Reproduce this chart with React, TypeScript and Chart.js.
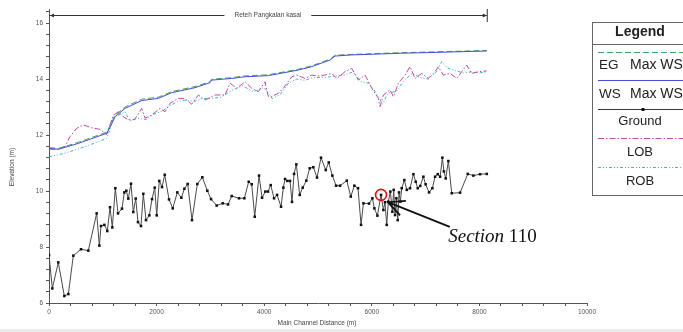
import React, { useEffect, useRef } from "react";
import { Chart, registerables } from "chart.js";

Chart.register(...registerables);

// Longitudinal profile of the Reteh Pangkalan kasai reach (HEC-RAS style)

// Ground (channel invert) profile
const groundStation = [
  0, 62, 173, 285, 360, 452, 595, 731, 886, 936, 967, 1029, 1084, 1134, 1177, 1233, 1283, 1357, 1400, 1437,
  1474, 1524, 1567, 1612, 1654, 1710, 1753, 1803, 1865, 1915, 1965, 2002, 2050, 2101, 2151, 2231, 2300, 2385,
  2460, 2516, 2578, 2658, 2757, 2850, 2943, 3012, 3117, 3229, 3328, 3396, 3532, 3631, 3712, 3768, 3824, 3904,
  3960, 4021, 4071, 4121, 4183, 4239, 4313, 4356, 4387, 4430, 4480, 4517, 4555, 4597, 4660, 4716, 4783, 4846,
  4913, 4982, 5056, 5144, 5200, 5267, 5336, 5410, 5535, 5609, 5676, 5744, 5800, 5844, 5949, 6011, 6048, 6104,
  6172, 6215, 6245, 6277, 6308, 6345, 6382, 6407, 6432, 6457, 6482, 6506, 6531, 6556, 6605, 6650, 6711, 6773,
  6817, 6854, 6900, 6959, 7000, 7065, 7126, 7176, 7226, 7270, 7312, 7340, 7374, 7423, 7486, 7641, 7784, 7888,
  8012, 8137,
];
const groundElev = [
  7.71, 6.52, 7.45, 6.25, 6.32, 7.69, 7.92, 7.87, 9.2, 8.05, 8.75, 8.79, 8.57, 9.42, 8.7, 10.1, 9.2, 9.37, 9.95, 10.01,
  9.73, 10.26, 9.25, 9.73, 8.89, 8.75, 9.9, 8.96, 9.13, 9.71, 10.12, 9.13, 10.36, 10.14, 10.58, 9.7, 9.38, 9.95,
  9.76, 10.08, 10.25, 8.96, 10.25, 10.49, 10.01, 9.71, 9.48, 9.56, 9.52, 9.82, 9.74, 9.74, 10.33, 10.24, 9.08, 10.55,
  9.76, 9.98, 9.98, 10.21, 9.74, 9.86, 9.44, 10.12, 10.43, 10.36, 10.36, 9.61, 10.61, 10.95, 9.86, 10.12, 10.37, 10.81,
  10.85, 10.48, 11.19, 10.75, 11.02, 10.55, 10.19, 10.19, 10.37, 9.8, 10.19, 10.1, 8.79, 9.56, 9.55, 9.74, 9.38, 9.12,
  9.86, 9.32, 9.6, 8.79, 9.62, 9.98, 9.26, 10.04, 9.14, 9.74, 8.96, 9.95, 9.62, 10.1, 10.39, 10.04, 10.1, 10.6,
  10.33, 10.1, 10.18, 10.51, 10.24, 9.95, 10.1, 10.51, 10.6, 10.51, 11.19, 10.7, 10.45, 11.07, 9.92, 9.94, 10.61, 10.55,
  10.6, 10.61,
];

// Water surface and energy grade at maximum WS
const wsStation = [
  0, 180, 545, 1072, 1134, 1227, 1413, 1723, 2032, 2280, 2714, 2993, 3024, 3396, 3644, 4077, 4635, 4883, 5225,
  5318, 5627, 6556, 7176, 8137,
];
const wsElev = [
  11.52, 11.49, 11.7, 12.06, 12.27, 12.65, 12.95, 13.23, 13.31, 13.51, 13.69, 13.87, 13.96, 14.02, 14.08, 14.12,
  14.32, 14.44, 14.68, 14.82, 14.86, 14.92, 14.95, 15.0,
];
const egElev = [
  11.55, 11.52, 11.74, 12.1, 12.32, 12.7, 13.0, 13.28, 13.35, 13.55, 13.73, 13.9, 13.99, 14.05, 14.11, 14.15,
  14.35, 14.47, 14.71, 14.85, 14.88, 14.94, 14.97, 15.02,
];

// Left overbank
const lobStation = [
  0, 150, 300, 390, 515, 638, 793, 948, 1072, 1134, 1196, 1289, 1382, 1475, 1590, 1723, 1785, 1908, 2063, 2156,
  2249, 2404, 2528, 2652, 2776, 2900, 3086, 3272, 3365, 3489, 3644, 3768, 3892, 4016, 4077, 4140, 4263, 4356,
  4512, 4605, 4760, 4884, 5039, 5255, 5348, 5503, 5627, 5751, 5875, 5999, 6122, 6153, 6215, 6339, 6401, 6494,
  6618, 6711, 6804, 6928, 7051, 7175, 7237, 7330, 7454, 7579, 7671, 7764, 7857, 7981, 8137,
];
const lobElev = [
  11.5, 11.48, 11.6, 11.94, 12.24, 12.36, 12.26, 12.2, 12.02, 12.36, 12.71, 12.83, 12.65, 12.54, 12.55, 12.95, 12.6,
  12.71, 12.95, 12.83, 13.13, 13.31, 13.3, 13.1, 13.43, 13.25, 13.43, 13.43, 13.85, 13.67, 13.9, 13.67, 13.55, 13.9,
  13.37, 13.37, 13.49, 13.67, 14.08, 14.14, 14.02, 14.14, 14.1, 14.2, 14.02, 14.26, 14.38, 13.96, 14.14, 13.67,
  13.31, 13.01, 13.43, 13.61, 13.37, 13.85, 14.14, 14.44, 14.02, 14.2, 14.02, 14.26, 14.44, 14.14, 14.2, 14.02,
  14.26, 14.5, 14.2, 14.26, 14.29,
];

// Right overbank
const robStation = [
  0, 297, 669, 1072, 1134, 1177, 1413, 1500, 1650, 1800, 1950, 2100, 2250, 2400, 2550, 2700, 2850, 3000, 3200,
  3400, 3600, 3800, 4000, 4150, 4300, 4450, 4600, 4750, 4900, 5100, 5300, 5500, 5650, 5800, 5950, 6100, 6200,
  6300, 6450, 6600, 6750, 6900, 7050, 7200, 7300, 7400, 7550, 7700, 7850, 8000, 8137,
];
const robElev = [
  11.22, 11.35, 11.58, 11.88, 12.2, 12.6, 12.83, 12.5, 12.6, 12.55, 12.75, 12.85, 13.05, 13.2, 13.25, 13.2, 13.3,
  13.3, 13.35, 13.6, 13.75, 13.55, 13.7, 13.3, 13.45, 13.85, 14.0, 13.95, 14.05, 14.05, 14.1, 14.15, 14.25, 13.9,
  13.85, 13.45, 13.1, 13.5, 13.55, 13.95, 14.2, 14.05, 14.0, 14.25, 14.62, 14.4, 14.3, 14.22, 14.25, 14.22, 14.25,
];

const xMajorTicks = [0, 2000, 4000, 6000, 8000, 10000];
const xMinorStep = 400;
const yMajorTicks = [6, 8, 10, 12, 14, 16];
const yMinorStep = 0.4;
const yMax = 16.5;

const reachName = "Reteh Pangkalan kasai";
const xTitle = "Main Channel Distance (m)";
const yTitle = "Elevation (m)";

const legendTitle = "Legend";
const legendLabels = [
  ["EG", "Max WS"],
  ["WS", "Max WS"],
  ["Ground"],
  ["LOB"],
  ["ROB"],
];

// Highlighted cross section
const sectionStation = 6172;
const sectionElev = 9.86;
const sectionWord = "Section";
const sectionNumber = "110";
const arrowTip = { x: 6300, y: 9.6 };
const arrowTail = { x: 7450, y: 8.72 };
const sectionLabelAt = { x: 7420, y: 8.18 };

const COLORS = {
  eg: "#3fa85a",
  ws: "#4b4be0",
  ground: "#3a3a3a",
  lob: "#c24aa8",
  rob: "#3cb6c8",
};
const DASH = {
  eg: [6, 3],
  ws: [] as number[],
  ground: [] as number[],
  lob: [6, 2, 1.5, 2],
  rob: [3, 2, 1, 2, 1, 2],
};

const SANS = "'Liberation Sans', Arial, sans-serif";
const SERIF = "'Liberation Serif', 'Times New Roman', serif";

const zip = (xs: number[], ys: number[]) => xs.map((x, i) => ({ x, y: ys[i] }));

const isMajor = (v: number, majors: number[]) => majors.some((m) => Math.abs(m - v) < 1e-6);

const minorTicks = (min: number, max: number, step: number) => {
  const out: { value: number }[] = [];
  const n = Math.floor((max - min) / step + 1e-6);
  for (let i = 0; i <= n; i++) out.push({ value: Math.round((min + i * step) * 1000) / 1000 });
  return out;
};

const overlayPlugin = {
  id: "profileOverlay",
  beforeDraw(chart: any) {
    const { ctx, width, height } = chart;
    ctx.save();
    ctx.fillStyle = "#ffffff";
    ctx.fillRect(0, 0, width, height);
    ctx.fillStyle = "#ececec";
    ctx.fillRect(0, height - 3, width, 3);
    ctx.restore();
  },
  afterDraw(chart: any) {
    const { ctx } = chart;
    const xs = chart.scales.x;
    const ys = chart.scales.y;
    const area = chart.chartArea;
    ctx.save();

    // axis titles
    ctx.fillStyle = "#444";
    ctx.font = `6.5px ${SANS}`;
    ctx.textAlign = "center";
    ctx.textBaseline = "middle";
    ctx.fillText(xTitle, (area.left + area.right) / 2 - 1, 323);
    ctx.save();
    ctx.translate(12, 167);
    ctx.rotate(-Math.PI / 2);
    ctx.fillText(yTitle, 0, 0);
    ctx.restore();

    // reach bracket
    const bx0 = xs.getPixelForValue(groundStation[0]);
    const bx1 = xs.getPixelForValue(groundStation[groundStation.length - 1]);
    const by = 15;
    const mid = (bx0 + bx1) / 2;
    ctx.font = `6.5px ${SANS}`;
    const tw = ctx.measureText(reachName).width;
    ctx.strokeStyle = "#333";
    ctx.lineWidth = 1;
    ctx.beginPath();
    ctx.moveTo(bx0, by + 0.5);
    ctx.lineTo(mid - tw / 2 - 10, by + 0.5);
    ctx.moveTo(mid + tw / 2 + 10, by + 0.5);
    ctx.lineTo(bx1, by + 0.5);
    ctx.moveTo(bx1 + 0.5, by - 6);
    ctx.lineTo(bx1 + 0.5, by + 7);
    ctx.stroke();
    ctx.fillStyle = "#333";
    ctx.beginPath();
    ctx.moveTo(bx0 + 1, by + 0.5);
    ctx.lineTo(bx0 + 5, by - 1.5);
    ctx.lineTo(bx0 + 5, by + 2.5);
    ctx.closePath();
    ctx.fill();
    ctx.beginPath();
    ctx.moveTo(bx1, by + 0.5);
    ctx.lineTo(bx1 - 4, by - 1.5);
    ctx.lineTo(bx1 - 4, by + 2.5);
    ctx.closePath();
    ctx.fill();
    ctx.fillStyle = "#444";
    ctx.fillText(reachName, mid, by + 0.5);

    // highlighted section
    const cx = xs.getPixelForValue(sectionStation);
    const cy = ys.getPixelForValue(sectionElev);
    ctx.strokeStyle = "#e01010";
    ctx.lineWidth = 1.6;
    ctx.beginPath();
    ctx.arc(cx, cy, 5.5, 0, Math.PI * 2);
    ctx.stroke();

    const tx = xs.getPixelForValue(arrowTip.x);
    const ty = ys.getPixelForValue(arrowTip.y);
    const ax = xs.getPixelForValue(arrowTail.x);
    const ay = ys.getPixelForValue(arrowTail.y);
    ctx.strokeStyle = "#111";
    ctx.lineWidth = 1.8;
    ctx.beginPath();
    ctx.moveTo(ax, ay);
    ctx.lineTo(tx, ty);
    const ang = Math.atan2(ay - ty, ax - tx);
    const head = 18;
    ctx.moveTo(tx + head * Math.cos(ang - 0.45), ty + head * Math.sin(ang - 0.45));
    ctx.lineTo(tx, ty);
    ctx.lineTo(tx + head * Math.cos(ang + 0.45), ty + head * Math.sin(ang + 0.45));
    ctx.stroke();

    const lx = xs.getPixelForValue(sectionLabelAt.x);
    const ly = ys.getPixelForValue(sectionLabelAt.y);
    ctx.fillStyle = "#111";
    ctx.textAlign = "left";
    ctx.textBaseline = "alphabetic";
    ctx.font = `italic 19px ${SERIF}`;
    ctx.fillText(sectionWord, lx, ly);
    const sw = ctx.measureText(sectionWord + " ").width;
    ctx.font = `19px ${SERIF}`;
    ctx.fillText(sectionNumber, lx + sw, ly);

    // legend box
    const L = 592.5;
    const T = 22.5;
    const W = 96;
    const H = 173;
    const cxL = 640;
    ctx.strokeStyle = "#666";
    ctx.lineWidth = 1;
    ctx.strokeRect(L, T, W, H);
    ctx.beginPath();
    ctx.moveTo(L, 44.5);
    ctx.lineTo(L + W, 44.5);
    ctx.stroke();
    ctx.fillStyle = "#222";
    ctx.textAlign = "center";
    ctx.textBaseline = "middle";
    ctx.font = `bold 14px ${SANS}`;
    ctx.fillText(legendTitle, cxL, 32);

    const keys = ["eg", "ws", "ground", "lob", "rob"] as const;
    const lineY = [52, 80, 109, 138, 167];
    const textY = [65, 94, 121, 152, 181];
    keys.forEach((k, i) => {
      ctx.save();
      ctx.strokeStyle = (COLORS as any)[k];
      ctx.lineWidth = 1;
      ctx.setLineDash((DASH as any)[k]);
      ctx.beginPath();
      ctx.moveTo(598, lineY[i] + 0.5);
      ctx.lineTo(690, lineY[i] + 0.5);
      ctx.stroke();
      ctx.restore();
      if (k === "ground") {
        ctx.fillStyle = "#111";
        ctx.fillRect(641.5, lineY[i] - 1, 3, 3);
      }
      ctx.fillStyle = "#222";
      const lab = legendLabels[i];
      if (lab.length === 2) {
        ctx.textAlign = "left";
        ctx.font = `13.5px ${SANS}`;
        ctx.fillText(lab[0], 599, textY[i]);
        ctx.font = `14px ${SANS}`;
        ctx.fillText(lab[1], 630, textY[i]);
      } else {
        ctx.textAlign = "center";
        ctx.font = `13px ${SANS}`;
        ctx.fillText(lab[0], cxL, textY[i]);
      }
    });

    ctx.restore();
  },
};

export default function App() {
  const canvasRef = useRef<HTMLCanvasElement | null>(null);

  useEffect(() => {
    const canvas = canvasRef.current;
    if (!canvas) return;

    const thinLine = (key: keyof typeof COLORS, data: { x: number; y: number }[], order: number) => ({
      data,
      borderColor: COLORS[key],
      borderWidth: 1,
      borderDash: DASH[key],
      pointRadius: 0,
      fill: false,
      tension: 0,
      order,
    });

    const chart = new Chart(canvas, {
      type: "line",
      data: {
        datasets: [
          thinLine("rob", zip(robStation, robElev), 5),
          thinLine("lob", zip(lobStation, lobElev), 4),
          thinLine("eg", zip(wsStation, egElev), 3),
          thinLine("ws", zip(wsStation, wsElev), 2),
          {
            data: zip(groundStation, groundElev),
            borderColor: "#4a4a4a",
            borderWidth: 1,
            pointStyle: "rect",
            pointRadius: 1.8,
            pointBackgroundColor: "#111",
            pointBorderColor: "#111",
            pointBorderWidth: 0,
            fill: false,
            tension: 0,
            order: 1,
          },
        ],
      },
      options: {
        responsive: false,
        animation: false,
        events: [],
        layout: { padding: { left: 0, top: 9, right: 96, bottom: 0 } },
        plugins: {
          legend: { display: false },
          tooltip: { enabled: false },
          title: { display: false },
        },
        scales: {
          x: {
            type: "linear",
            min: xMajorTicks[0],
            max: xMajorTicks[xMajorTicks.length - 1],
            afterFit: (s: any) => {
              s.height = 29;
            },
            afterBuildTicks: (s: any) => {
              s.ticks = minorTicks(xMajorTicks[0], xMajorTicks[xMajorTicks.length - 1], xMinorStep);
            },
            border: { display: true, color: "#555", width: 1 },
            grid: { display: true, drawOnChartArea: false, drawTicks: true, tickLength: 3, color: "#555" },
            ticks: {
              autoSkip: false,
              maxRotation: 0,
              padding: 2,
              color: "#555",
              font: { family: SANS, size: 6.5 },
              callback: (v: any) => (isMajor(Number(v), xMajorTicks) ? String(v) : ""),
            },
          },
          y: {
            type: "linear",
            min: yMajorTicks[0],
            max: yMax,
            afterFit: (s: any) => {
              s.width = 49;
            },
            afterBuildTicks: (s: any) => {
              s.ticks = minorTicks(yMajorTicks[0], yMax, yMinorStep);
            },
            border: { display: true, color: "#555", width: 1 },
            grid: { display: true, drawOnChartArea: false, drawTicks: true, tickLength: 3, color: "#555" },
            ticks: {
              autoSkip: false,
              padding: 3,
              color: "#555",
              font: { family: SANS, size: 6.5 },
              callback: (v: any) => (isMajor(Number(v), yMajorTicks) ? String(v) : ""),
            },
          },
        },
      },
      plugins: [overlayPlugin],
    } as any);

    return () => chart.destroy();
  }, []);

  return (
    <div style={{ position: "fixed", left: 0, top: 0, width: 683, height: 332, background: "#fff" }}>
      <canvas ref={canvasRef} width={683} height={332} style={{ display: "block", width: 683, height: 332 }} />
    </div>
  );
}
